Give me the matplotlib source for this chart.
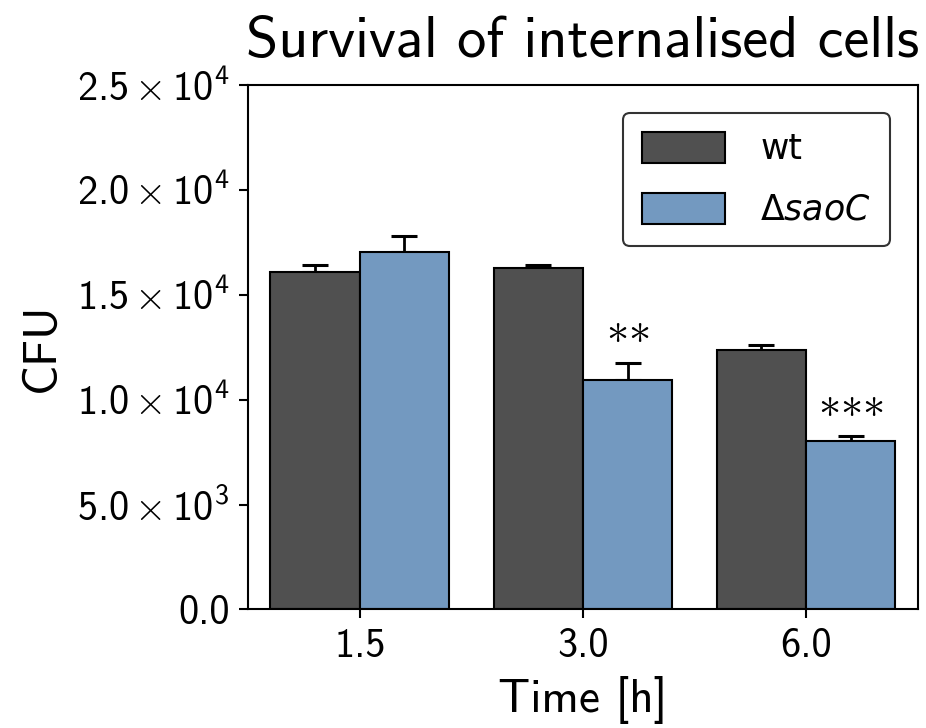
import numpy as np
import matplotlib
matplotlib.use('Agg')
import matplotlib.pyplot as plt
from matplotlib.ticker import FuncFormatter

times = ['1.5', '3.0', '6.0']
wt_mean = [16100, 16300, 12350]
wt_err = [330, 100, 240]
mut_mean = [17050, 10950, 8020]
mut_err = [750, 800, 240]
stars = [0, 2, 3]

plt.rcParams['font.family'] = 'cmss10'
plt.rcParams['mathtext.fontset'] = 'custom'
plt.rcParams['mathtext.rm'] = 'cmss10'
plt.rcParams['mathtext.it'] = 'cmss10'
plt.rcParams['axes.unicode_minus'] = False


def sci_label(v, pos):
    if v == 0:
        return '0.0'
    exp = int(np.floor(np.log10(v)))
    return r'$%.1f\times10^{%d}$' % (v / 10 ** exp, exp)


def main():
    fig = plt.figure(figsize=(9.26, 7.28), dpi=100)
    ax = fig.add_axes([0.268, 0.163, 0.723, 0.72])

    x = np.arange(len(times))
    w = 0.4
    ax.bar(x - w / 2, wt_mean, w, color='#505050', edgecolor='black', linewidth=1.5,
           label='wt', zorder=2)
    ax.bar(x + w / 2, mut_mean, w, color='#7399c0', edgecolor='black', linewidth=1.5,
           label=r'$\Delta saoC$', zorder=2)
    ax.errorbar(x - w / 2, wt_mean, yerr=[np.zeros(3), wt_err], fmt='none',
                ecolor='black', elinewidth=2, capsize=9.5, capthick=2.2, zorder=1)
    ax.errorbar(x + w / 2, mut_mean, yerr=[np.zeros(3), mut_err], fmt='none',
                ecolor='black', elinewidth=2, capsize=9.5, capthick=2.2, zorder=1)

    # significance marks above the mutant bars
    for i, n in enumerate(stars):
        if n:
            ax.text(x[i] + w / 2, mut_mean[i] + mut_err[i] + 1530, '$' + r'{\ast}' * n + '$',
                    ha='center', va='center', fontsize=32)

    ax.set_xlim(-0.5, 2.5)
    ax.set_ylim(0, 25000)
    ax.set_yticks(np.arange(0, 25001, 5000))
    ax.yaxis.set_major_formatter(FuncFormatter(sci_label))
    ax.set_xticks(x)
    ax.set_xticklabels(times)
    ax.tick_params(labelsize=29, width=1.5, length=6.5, pad=7)
    for sp in ax.spines.values():
        sp.set_linewidth(1.5)

    ax.set_xlabel('Time [h]', fontsize=34, labelpad=8)
    ax.set_ylabel('CFU', fontsize=34, labelpad=10)
    ax.set_title('Survival of internalised cells', fontsize=42, pad=20)

    leg = ax.legend(loc='upper right', fontsize=25, handlelength=2.4, handleheight=1.0,
                    borderpad=0.55, labelspacing=0.75, handletextpad=1.0,
                    borderaxespad=0.8, fancybox=True, framealpha=1)
    leg.get_frame().set_edgecolor('#333333')
    leg.get_frame().set_linewidth(1.5)
    for t in leg.get_texts():
        t.set_fontfamily('DejaVu Sans')
        t.set_math_fontfamily('dejavusans')

    fig.savefig('out.png', dpi=100)


if __name__ == '__main__':
    main()
